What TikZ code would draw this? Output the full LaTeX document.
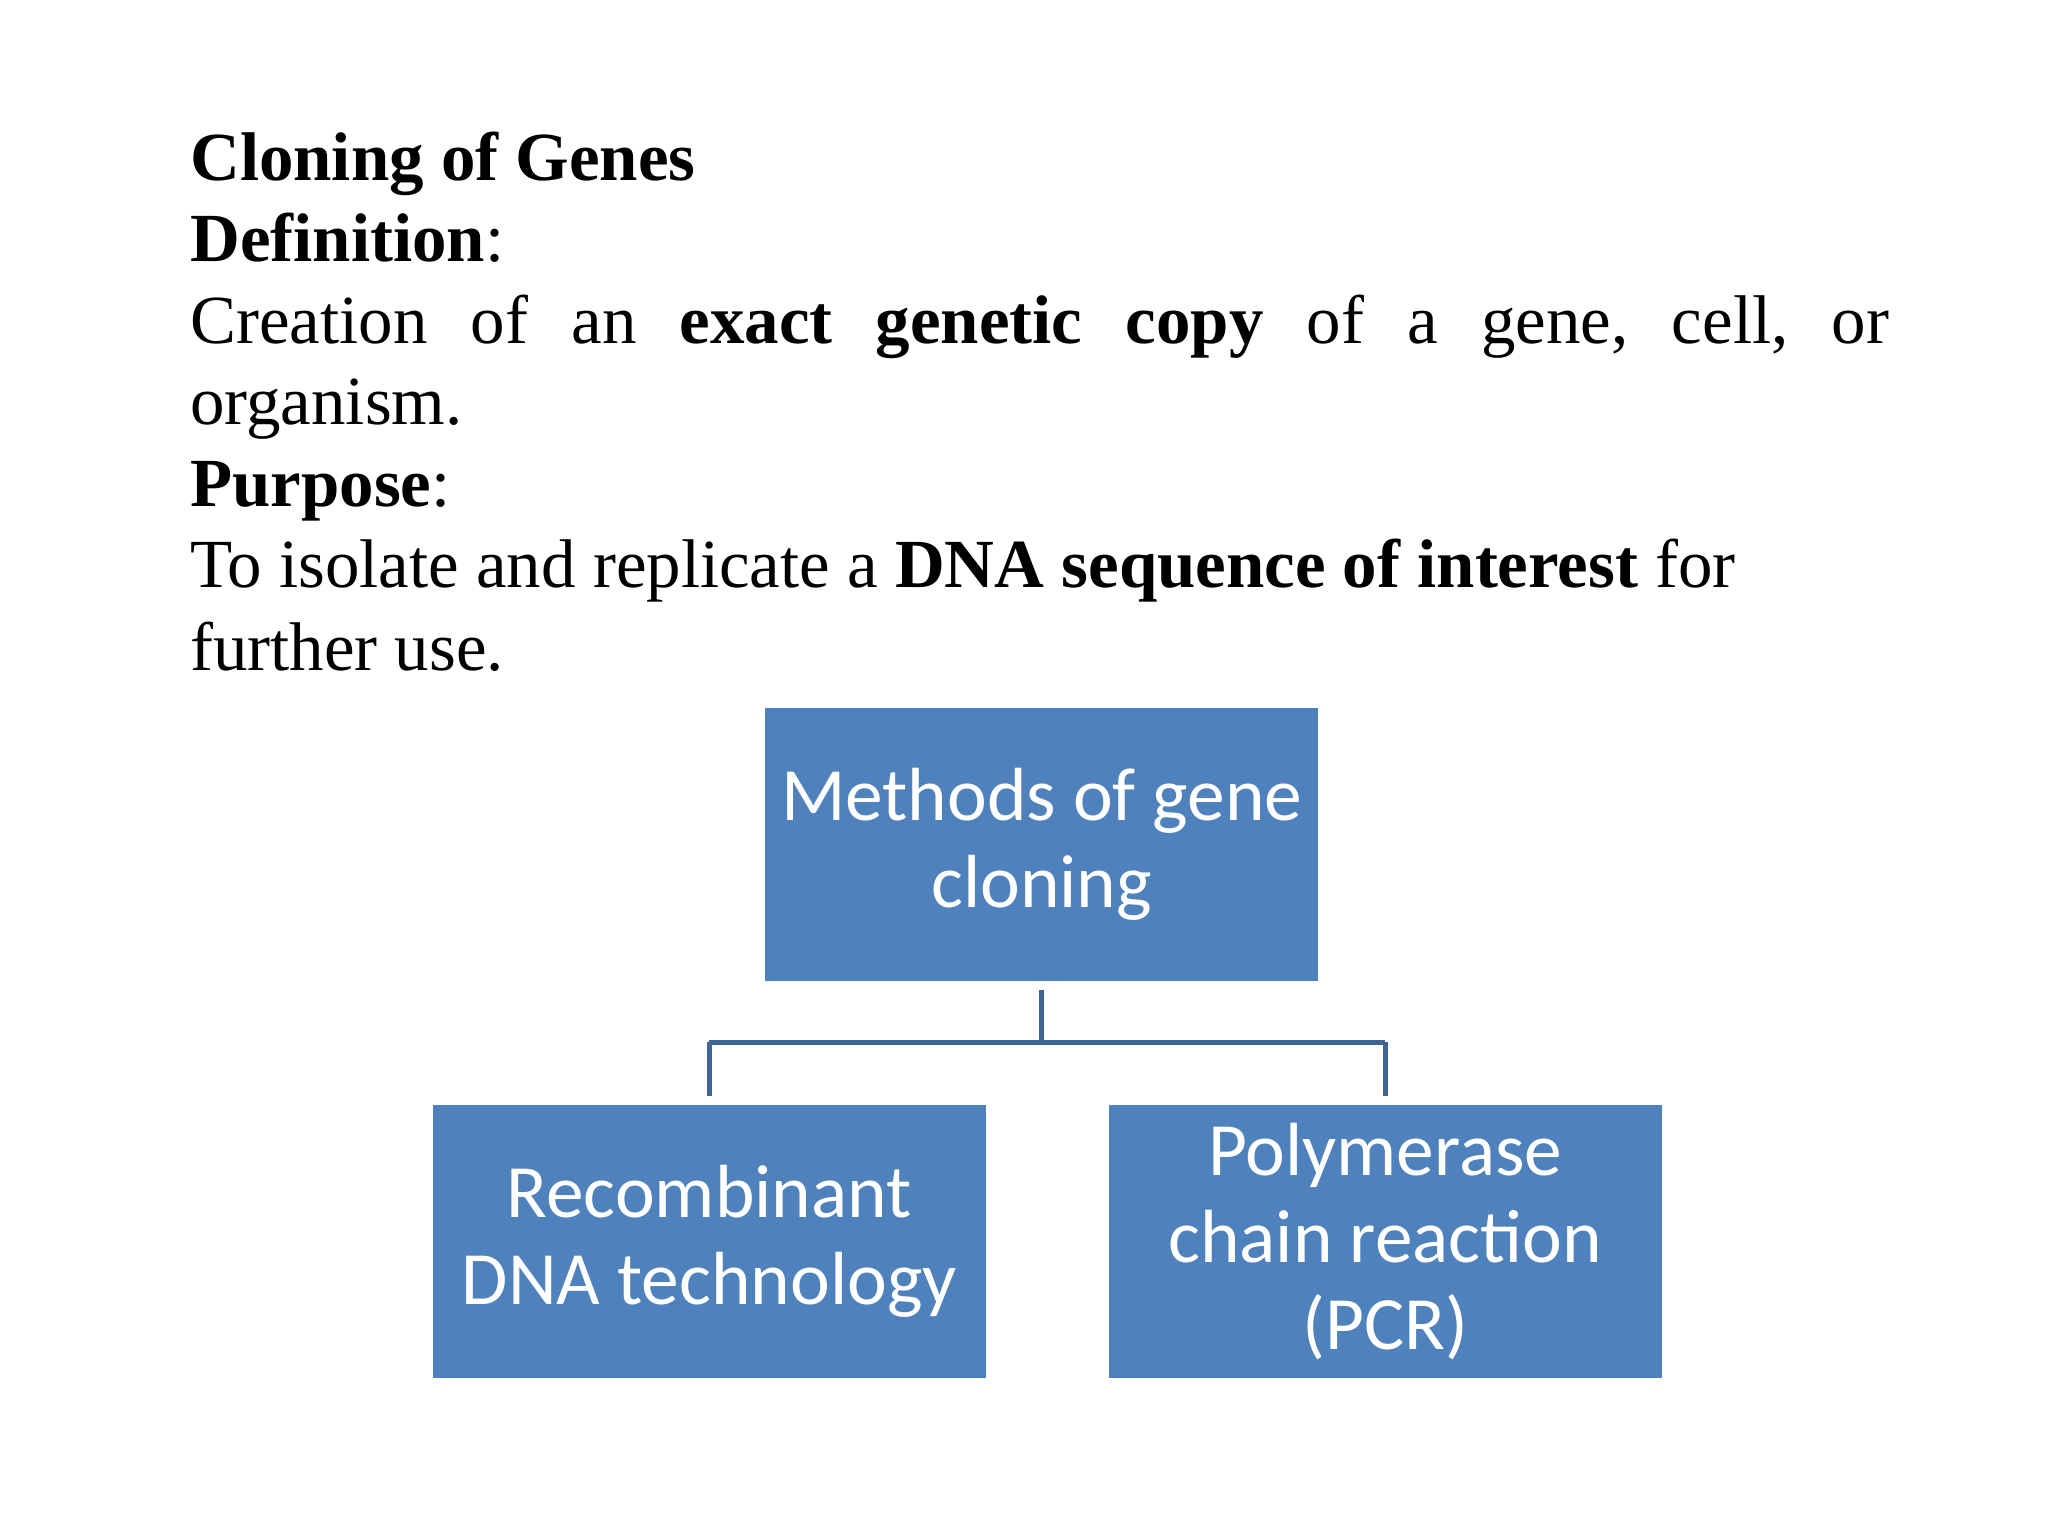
\documentclass[tikz,border=0pt]{standalone}
\usepackage{fontspec}
\setmainfont{Liberation Serif}
\newfontfamily\boxfont{Carlito}
\definecolor{boxblue}{HTML}{4F81BD}
\definecolor{linkblue}{HTML}{3F6594}
\begin{document}
\begin{tikzpicture}[x=0.01cm,y=-0.01cm,
  txt/.style={anchor=base west,inner sep=0pt,font=\fontsize{15}{18}\selectfont},
  box/.style={fill=boxblue,draw=none,minimum width=4.23cm,minimum height=2.09cm,text=white,align=center,inner sep=0pt,font=\boxfont\fontsize{16.4}{19}\selectfont},
  link/.style={draw=linkblue,line width=1.1pt}]
\useasboundingbox (0,0) rectangle (1568,1176);
\node[txt] (t1) at (145,138) {\textbf{Cloning of Genes}};
\node[txt] (t2) at (145,200) {\textbf{Definition}:};
\node[txt] (t3) at (145,263) {\hbox to 13cm{Creation\hfill of\hfill an\hfill \textbf{exact}\hfill \textbf{genetic}\hfill \textbf{copy}\hfill of\hfill a\hfill gene,\hfill cell,\hfill or}};
\node[txt] (t4) at (145,325) {organism.};
\node[txt] (t5) at (145,388) {\textbf{Purpose}:};
\node[txt] (t6) at (145,450) {To isolate and replicate a \textbf{DNA sequence of interest} for};
\node[txt] (t7) at (145,513) {further use.};
\node[box] (top) at (797.5,646.5) {Methods of gene\\cloning};
\node[box] (left) at (543,950.5) {Recombinant\\DNA technology};
\node[box] (right) at (1060.5,950.5) {Polymerase\\chain reaction\\(PCR)};
\coordinate (j) at (797.5,798);
\draw[link] ([yshift=-0.06cm]top.south) -- (j);
\draw[link] (left.north |- j) -- ([yshift=0.06cm]left.north);
\draw[link] (right.north |- j) -- ([yshift=0.06cm]right.north);
\draw[link] (left.north |- j) -- (right.north |- j);
\end{tikzpicture}
\end{document}
